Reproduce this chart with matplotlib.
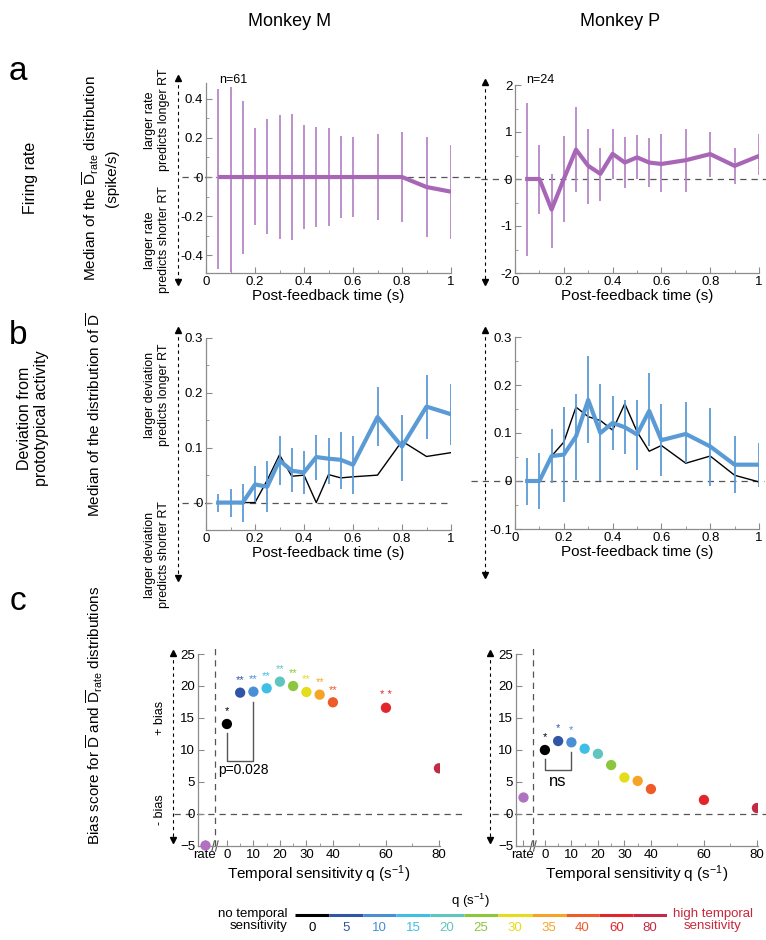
import matplotlib.pyplot as plt
import numpy as np
from matplotlib.ticker import MultipleLocator, FixedLocator

plt.rcParams['font.family'] = ['Liberation Sans', 'DejaVu Sans']
plt.rcParams['mathtext.fontset'] = 'custom'
plt.rcParams['mathtext.rm'] = 'Liberation Sans'
plt.rcParams['mathtext.it'] = 'Liberation Sans:italic'

W, H = 766, 940

# ---------------- data ----------------
t = [0.05, 0.1, 0.15, 0.2, 0.25, 0.3, 0.35, 0.4, 0.45, 0.5, 0.55, 0.6, 0.7, 0.8, 0.9, 1.0]

# panel a, firing rate (monkey M / monkey P)
rate_M = [0, 0, 0, 0, 0, 0, 0, 0, 0, 0, 0, 0, 0, 0, -0.051, -0.075]
rate_M_hi = [0.451, 0.462, 0.388, 0.248, 0.294, 0.315, 0.323, 0.265, 0.256, 0.251, 0.209, 0.205, 0.219, 0.232, 0.205, 0.164]
rate_M_lo = [-0.472, -0.486, -0.393, -0.243, -0.29, -0.315, -0.321, -0.263, -0.253, -0.25, -0.209, -0.205, -0.219, -0.232, -0.308, -0.315]

rate_P = [0, 0, -0.65, 0, 0.625, 0.28, 0.11, 0.535, 0.35, 0.46, 0.35, 0.32, 0.40, 0.53, 0.28, 0.49]
rate_P_hi = [1.625, 0.72, 0.1, 0.92, 1.53, 1.07, 0.67, 1.07, 0.89, 0.94, 0.875, 0.95, 1.07, 1.0, 0.67, 0.95]
rate_P_lo = [-1.64, -0.74, -1.46, -0.92, -0.28, -0.53, -0.46, 0.0, -0.19, -0.01, -0.16, -0.28, -0.28, 0.05, -0.1, 0.08]

# panel b, deviation from prototypical activity
dev_M = [0, 0, 0, 0.033, 0.029, 0.077, 0.058, 0.055, 0.083, 0.080, 0.078, 0.069, 0.156, 0.102, 0.175, 0.161]
dev_M_hi = [0.016, 0.024, 0.033, 0.067, 0.075, 0.122, 0.099, 0.094, 0.123, 0.118, 0.128, 0.121, 0.21, 0.159, 0.233, 0.216]
dev_M_lo = [-0.017, -0.027, -0.035, 0.001, -0.017, 0.032, 0.02, 0.016, 0.041, 0.033, 0.024, 0.016, 0.103, 0.04, 0.116, 0.105]
dev_M_q0 = [0, 0, 0, 0, 0.041, 0.087, 0.048, 0.05, 0, 0.051, 0.045, 0.047, 0.05, 0.112, 0.084, 0.091]

dev_P = [0, 0, 0.052, 0.055, 0.093, 0.169, 0.1, 0.121, 0.112, 0.097, 0.146, 0.085, 0.098, 0.072, 0.034, 0.034]
dev_P_hi = [0.048, 0.058, 0.108, 0.154, 0.181, 0.261, 0.202, 0.177, 0.168, 0.169, 0.226, 0.16, 0.165, 0.152, 0.094, 0.079]
dev_P_lo = [-0.049, -0.059, -0.005, -0.043, 0.003, 0.079, 0, 0.064, 0.057, 0.023, 0.072, 0.01, 0.038, -0.01, -0.026, -0.012]
dev_P_q0 = [0, 0, 0.052, 0.081, 0.154, 0.134, 0.126, 0.106, 0.161, 0.103, 0.062, 0.074, 0.037, 0.052, 0.012, -0.002]

# panel c, bias scores
q_vals = [0, 5, 10, 15, 20, 25, 30, 35, 40, 60, 80]
q_labels = ['0', '5', '10', '15', '20', '25', '30', '35', '40', '60', '80']
q_colors = ['#000000', '#2f55a4', '#4a8fd3', '#3fbfe8', '#5fc6bf', '#8cc63f',
            '#e4dd1c', '#f6a428', '#ef5a29', '#e2242b', '#c32a46']
bias_M = [14.06, 18.96, 19.11, 19.64, 20.68, 20.0, 19.06, 18.65, 17.45, 16.6, 7.14]
bias_P = [10.0, 11.4, 11.2, 10.2, 9.4, 7.65, 5.7, 5.17, 3.9, 2.2, 0.93]
stars_M = ['*', '**', '**', '**', '**', '**', '**', '**', '**', '* *', '']
stars_P = ['*', '*', '*', '', '', '', '', '', '', '', '']
rate_bias_M = -4.8
rate_bias_P = 2.7
rate_pos = -8.3

purple = '#a866b6'
purple_err = '#b788c6'
blue = '#5b9bd5'
gray = '#8c8c8c'

fig = plt.figure(figsize=(W / 100, H / 100), dpi=100)


def px_axes(x0, y0, x1, y1):
    return fig.add_axes([x0 / W, 1 - y1 / H, (x1 - x0) / W, (y1 - y0) / H])


def ftext(x, y, s, **kw):
    kw.setdefault('ha', 'center')
    kw.setdefault('va', 'center')
    fig.text(x / W, 1 - y / H, s, **kw)


def farrow(x, y0, y1):
    fig.add_artist(plt.Line2D([x / W, x / W], [1 - y0 / H, 1 - y1 / H], color='k',
                              lw=0.8, ls=(0, (3, 3))))
    fig.add_artist(plt.Line2D([x / W], [1 - y0 / H], marker='^', ms=4, color='k', lw=0))
    fig.add_artist(plt.Line2D([x / W], [1 - y1 / H], marker='v', ms=4, color='k', lw=0))


def style(ax, xlim, ylim):
    for s in ('top', 'right'):
        ax.spines[s].set_visible(False)
    for s in ('left', 'bottom'):
        ax.spines[s].set_color(gray)
        ax.spines[s].set_linewidth(0.9)
    ax.set_xlim(*xlim)
    ax.set_ylim(*ylim)
    ax.tick_params(which='both', direction='in', color=gray, labelsize=9.5, pad=2)
    ax.tick_params(which='major', length=4)
    ax.tick_params(which='minor', length=2.5)
    ax.patch.set_alpha(0)


def fmt(v):
    s = '%g' % round(v, 3)
    return '0' if s == '-0' else s


def time_axis(ax, ylim, ymaj):
    style(ax, (0, 1), ylim)
    ax.xaxis.set_major_locator(MultipleLocator(0.2))
    ax.xaxis.set_minor_locator(MultipleLocator(0.1))
    ax.yaxis.set_major_locator(MultipleLocator(ymaj))
    ax.yaxis.set_minor_locator(MultipleLocator(ymaj / 2))
    ax.xaxis.set_major_formatter(lambda v, p: fmt(v))
    ax.yaxis.set_major_formatter(lambda v, p: fmt(v))
    ax.set_xlabel('Post-feedback time (s)', fontsize=11, labelpad=1)


def zero_line(ax, x0, x1):
    ax.plot([x0, x1], [0, 0], transform=ax.get_yaxis_transform(), color='#555555',
            lw=0.9, ls=(0, (5, 4)), clip_on=False, zorder=1)


# ---------------- panel a ----------------
axaM = px_axes(206, 83, 451, 273)
time_axis(axaM, (-0.49, 0.48), 0.2)
zero_line(axaM, -0.1, 1.12)
axaM.vlines(t, rate_M_lo, rate_M_hi, color=purple_err, lw=1.3, zorder=2)
axaM.plot(t, rate_M, color=purple, lw=3, zorder=3, solid_capstyle='butt')

axaP = px_axes(515, 85, 759, 273)
time_axis(axaP, (-2, 2), 1)
zero_line(axaP, -0.14, 1.03)
axaP.vlines(t, rate_P_lo, rate_P_hi, color=purple_err, lw=1.3, zorder=2)
axaP.plot(t, rate_P, color=purple, lw=3, zorder=3)

# ---------------- panel b ----------------
axbM = px_axes(206, 338, 451, 530)
time_axis(axbM, (-0.05, 0.3), 0.1)
zero_line(axbM, -0.1, 1.0)
axbM.plot(t, dev_M_q0, color='k', lw=1.0, zorder=2)
axbM.vlines(t, dev_M_lo, dev_M_hi, color=blue, lw=1.3, zorder=3)
axbM.plot(t, dev_M, color=blue, lw=3, zorder=4)

axbP = px_axes(515, 337, 759, 529)
time_axis(axbP, (-0.1, 0.3), 0.1)
zero_line(axbP, -0.18, 1.02)
axbP.plot(t, dev_P_q0, color='k', lw=1.0, zorder=2)
axbP.vlines(t, dev_P_lo, dev_P_hi, color=blue, lw=1.3, zorder=3)
axbP.plot(t, dev_P, color=blue, lw=3, zorder=4)


# ---------------- panel c ----------------
def bias_axis(ax, vals, stars, rate_val):
    style(ax, (-10.9, 80.4), (-5, 25))
    ax.xaxis.set_major_locator(FixedLocator([rate_pos, 0, 10, 20, 30, 40, 60, 80]))
    ax.set_xticklabels(['rate', '0', '10', '20', '30', '40', '60', '80'])
    ax.xaxis.set_minor_locator(FixedLocator([5, 15, 25, 35, 50, 70]))
    ax.yaxis.set_major_locator(MultipleLocator(5))
    ax.set_xlabel('Temporal sensitivity q (s$^{-1}$)', fontsize=11, labelpad=2)
    zero_line(ax, -0.1, 1.1)
    ax.axvline(-4.3, color='#555555', lw=0.9, ls=(0, (5, 4)), ymax=1.03, clip_on=False)
    # axis break mark
    for dx in (-0.9, 0.5):
        ax.plot([-4.3 + dx - 0.5, -4.3 + dx + 0.5], [-5.8, -4.2], color='#555555',
                lw=0.8, clip_on=False)
    ax.scatter(q_vals, vals, s=55, c=q_colors, zorder=4, linewidths=0)
    ax.scatter([rate_pos], [rate_val], s=55, c='#b072c0', zorder=4, linewidths=0, clip_on=False)
    for q, v, s, c in zip(q_vals, vals, stars, q_colors):
        if s:
            ax.text(q, v + 1.2, s, color=c, fontsize=8, ha='center', va='bottom')


axcM = px_axes(198, 654, 440, 846)
bias_axis(axcM, bias_M, stars_M, rate_bias_M)
axcM.plot([0, 0, 10, 10], [12.6, 8.3, 8.3, 17.5], color='#555555', lw=1)
axcM.text(-3.4, 8.0, 'p=0.028', fontsize=10, ha='left', va='top')

axcP = px_axes(516, 654, 758, 846)
bias_axis(axcP, bias_P, stars_P, rate_bias_P)
axcP.plot([0, 0, 10, 10], [8.6, 6.8, 6.8, 9.7], color='#555555', lw=1)
axcP.text(5, 6.2, 'ns', fontsize=12, ha='center', va='top')

# ---------------- colour key ----------------
axk = px_axes(295, 910, 667, 920)
axk.set_xlim(0, len(q_vals))
axk.set_ylim(0, 1)
axk.axis('off')
for i, c in enumerate(q_colors):
    axk.plot([i, i + 1], [0.5, 0.5], color=c, lw=2.2, solid_capstyle='butt')
key_w = (667 - 295) / len(q_vals)
for i, (lab, c) in enumerate(zip(q_labels, q_colors)):
    ftext(295 + key_w * (i + 0.5), 928, lab, color=c, fontsize=9.5)
ftext(470, 901, 'q (s$^{-1}$)', fontsize=9.5)
ftext(287, 920, 'no temporal\nsensitivity', fontsize=9.5, ha='right', linespacing=1.1)
ftext(713, 920, 'high temporal\nsensitivity', fontsize=9.5, color='#c8283c', linespacing=1.1)

# ---------------- column / row labels ----------------
ftext(290, 22, 'Monkey M', fontsize=13)
ftext(620, 22, 'Monkey P', fontsize=13)
ftext(233, 80, 'n=61', fontsize=9)
ftext(540, 80, 'n=24', fontsize=9)
for lab, y in (('a', 72), ('b', 335), ('c', 602)):
    ftext(18, y, lab, fontsize=24)

ftext(30, 178, 'Firing rate', fontsize=11.5, rotation=90)
ftext(100, 178, 'Median of the $\\overline{\\mathrm{D}}_{\\mathrm{rate}}$ distribution\n(spike/s)',
      fontsize=11, rotation=90, linespacing=1.4)
ftext(157, 120, 'larger rate\npredicts longer RT', fontsize=9, rotation=90)
ftext(157, 240, 'larger rate\npredicts shorter RT', fontsize=9, rotation=90)
farrow(178, 78, 282)
farrow(485, 82, 282)

ftext(33, 418, 'Deviation from\nprototypical activity', fontsize=11.5, rotation=90)
ftext(95, 415, 'Median of the distribution of $\\overline{\\mathrm{D}}$', fontsize=11, rotation=90)
ftext(157, 395, 'larger deviation\npredicts longer RT', fontsize=9, rotation=90)
ftext(157, 555, 'larger deviation\npredicts shorter RT', fontsize=9, rotation=90)
farrow(178, 330, 578)
farrow(485, 330, 575)

ftext(95, 715, 'Bias score for $\\overline{\\mathrm{D}}$ and $\\overline{\\mathrm{D}}_{\\mathrm{rate}}$ distributions',
      fontsize=11, rotation=90)
ftext(160, 718, '+ bias', fontsize=9, rotation=90)
ftext(160, 810, '- bias', fontsize=9, rotation=90)
farrow(173, 653, 840)
farrow(490, 653, 840)

fig.savefig('out.png', dpi=100)
